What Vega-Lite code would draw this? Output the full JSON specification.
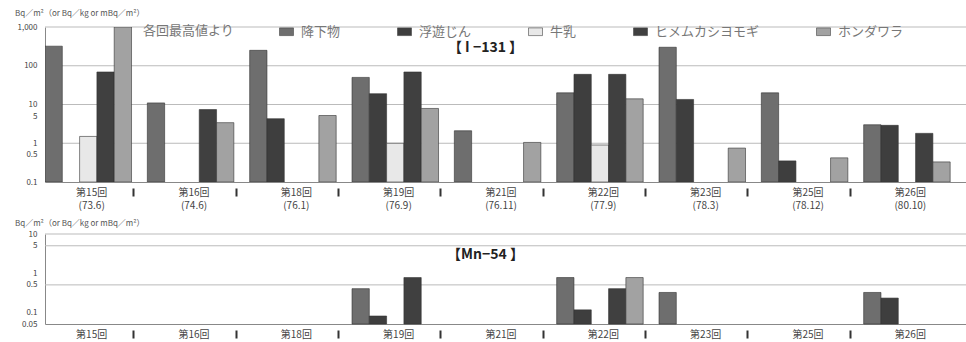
{
  "$schema": "https://vega.github.io/schema/vega-lite/v6.json",
  "padding": {"left": 5, "top": 10, "right": 0, "bottom": 2},
  "spacing": 10,
  "config": {
    "font": "Noto Sans CJK JP",
    "view": {"stroke": null},
    "axis": {"labelFont": "Noto Sans CJK JP", "titleFont": "Noto Sans CJK JP"},
    "title": {"font": "Noto Sans CJK JP"}
  },
  "datasets": {
    "i131": [
      {"test": "第15回|(73.6)", "item": "降下物", "value": 320},
      {"test": "第15回|(73.6)", "item": "牛乳", "value": 1.5},
      {"test": "第15回|(73.6)", "item": "ヒメムカシヨモギ", "value": 69},
      {"test": "第15回|(73.6)", "item": "ホンダワラ", "value": 1000},
      {"test": "第16回|(74.6)", "item": "降下物", "value": 11},
      {"test": "第16回|(74.6)", "item": "ヒメムカシヨモギ", "value": 7.4},
      {"test": "第16回|(74.6)", "item": "ホンダワラ", "value": 3.4},
      {"test": "第18回|(76.1)", "item": "降下物", "value": 250},
      {"test": "第18回|(76.1)", "item": "浮遊じん", "value": 4.3},
      {"test": "第18回|(76.1)", "item": "ホンダワラ", "value": 5.2},
      {"test": "第19回|(76.9)", "item": "降下物", "value": 50},
      {"test": "第19回|(76.9)", "item": "浮遊じん", "value": 19},
      {"test": "第19回|(76.9)", "item": "牛乳", "value": 1.0},
      {"test": "第19回|(76.9)", "item": "ヒメムカシヨモギ", "value": 69},
      {"test": "第19回|(76.9)", "item": "ホンダワラ", "value": 7.9},
      {"test": "第21回|(76.11)", "item": "降下物", "value": 2.1},
      {"test": "第21回|(76.11)", "item": "ホンダワラ", "value": 1.05},
      {"test": "第22回|(77.9)", "item": "降下物", "value": 20},
      {"test": "第22回|(77.9)", "item": "浮遊じん", "value": 60},
      {"test": "第22回|(77.9)", "item": "牛乳", "value": 0.9},
      {"test": "第22回|(77.9)", "item": "ヒメムカシヨモギ", "value": 60},
      {"test": "第22回|(77.9)", "item": "ホンダワラ", "value": 14},
      {"test": "第23回|(78.3)", "item": "降下物", "value": 300},
      {"test": "第23回|(78.3)", "item": "浮遊じん", "value": 13.5},
      {"test": "第23回|(78.3)", "item": "ホンダワラ", "value": 0.75},
      {"test": "第25回|(78.12)", "item": "降下物", "value": 20},
      {"test": "第25回|(78.12)", "item": "浮遊じん", "value": 0.35},
      {"test": "第25回|(78.12)", "item": "ホンダワラ", "value": 0.42},
      {"test": "第26回|(80.10)", "item": "降下物", "value": 3.0},
      {"test": "第26回|(80.10)", "item": "浮遊じん", "value": 2.9},
      {"test": "第26回|(80.10)", "item": "ヒメムカシヨモギ", "value": 1.8},
      {"test": "第26回|(80.10)", "item": "ホンダワラ", "value": 0.33}
    ],
    "mn54": [
      {"test": "第19回|(76.9)", "item": "降下物", "value": 0.4},
      {"test": "第19回|(76.9)", "item": "浮遊じん", "value": 0.08},
      {"test": "第19回|(76.9)", "item": "ヒメムカシヨモギ", "value": 0.77},
      {"test": "第22回|(77.9)", "item": "降下物", "value": 0.77},
      {"test": "第22回|(77.9)", "item": "浮遊じん", "value": 0.115},
      {"test": "第22回|(77.9)", "item": "ヒメムカシヨモギ", "value": 0.4},
      {"test": "第22回|(77.9)", "item": "ホンダワラ", "value": 0.77},
      {"test": "第23回|(78.3)", "item": "降下物", "value": 0.32},
      {"test": "第26回|(80.10)", "item": "降下物", "value": 0.32},
      {"test": "第26回|(80.10)", "item": "浮遊じん", "value": 0.23}
    ],
    "gridTop": [{"v": 1}, {"v": 10}, {"v": 100}, {"v": 1000}],
    "gridBottom": [{"v": 0.5}, {"v": 5}, {"v": 10}],
    "labelTop": [{"t": "【  I −131  】", "v": 280}],
    "labelBottom": [{"t": "【Mn−54    】", "v": 2.9}]
  },
  "resolve": {"legend": {"color": "independent"}, "scale": {"color": "independent"}},
  "vconcat": [
    {
      "width": 921,
      "height": 155,
      "title": {"text": "Bq／m²（or Bq／kg or mBq／m²）", "anchor": "start", "dx": 10, "fontSize": 8, "fontWeight": "normal", "color": "#555", "offset": 5},
      "layer": [
        {
          "data": {"name": "gridTop"},
          "mark": {"type": "rule", "color": "#bbb", "strokeWidth": 1},
          "encoding": {
            "y": {"field": "v", "type": "quantitative", "scale": {"type": "log", "domain": [0.1, 1000], "nice": false},
              "axis": {"title": null, "values": [0.1, 0.5, 1, 5, 10, 100, 1000], "format": ",~g", "grid": false, "ticks": false, "labelFontSize": 8, "labelColor": "#444", "labelPadding": 8, "domainColor": "#888", "minExtent": 40, "maxExtent": 40}}
          }
        },
        {
          "data": {"name": "i131"},
          "mark": {"type": "bar", "stroke": "#333", "strokeWidth": 0.6, "clip": true},
          "encoding": {
            "x": {
              "field": "test", "type": "nominal",
              "scale": {"domain": ["第15回|(73.6)", "第16回|(74.6)", "第18回|(76.1)", "第19回|(76.9)", "第21回|(76.11)", "第22回|(77.9)", "第23回|(78.3)", "第25回|(78.12)", "第26回|(80.10)"], "paddingInner": 0, "paddingOuter": 0},
              "axis": {
                "title": null, "labelAngle": 0, "labelExpr": "split(datum.label, '|')",
                "labelFontSize": 10, "labelColor": "#444", "labelPadding": -9, "labelLineHeight": 13,
                "domainColor": "#888", "bandPosition": 1, "tickExtra": false, "tickOffset": -14, "labelOffset": 9,
                "tickSize": 14, "tickWidth": 2, "tickColor": "#333", "tickDash": [0, 6, 8],
                "tickOpacity": {"condition": {"test": "datum.value === '第26回|(80.10)'", "value": 0}, "value": 1}
              }
            },
            "xOffset": {"field": "item", "type": "nominal", "scale": {"domain": ["降下物", "浮遊じん", "牛乳", "ヒメムカシヨモギ", "ホンダワラ"], "paddingInner": 0, "paddingOuter": 0.457, "align": 0}},
            "y": {
              "field": "value", "type": "quantitative", "stack": null,
              "scale": {"type": "log", "domain": [0.1, 1000], "nice": false},
              "axis": {"title": null, "values": [0.1, 0.5, 1, 5, 10, 100, 1000], "format": ",~g", "grid": false, "ticks": false, "labelFontSize": 8, "labelColor": "#444", "labelPadding": 8, "domainColor": "#888", "minExtent": 40, "maxExtent": 40}
            },
            "y2": {"datum": 0.1},
            "color": {
              "field": "item", "type": "nominal",
              "scale": {"domain": ["降下物", "浮遊じん", "牛乳", "ヒメムカシヨモギ", "ホンダワラ"], "range": ["#6e6e6e", "#3e3e3e", "#e8e8e8", "#404040", "#a2a2a2"]},
              "legend": {
                "orient": "none", "legendX": 98, "legendY": -3, "direction": "horizontal",
                "title": "各回最高値より", "titleOrient": "left", "titleFontSize": 13, "titleFontWeight": "normal", "titleColor": "#777", "titlePadding": 44,
                "labelFontSize": 13, "labelColor": "#777", "labelOffset": 7, "columnPadding": 55,
                "symbolType": "M-1,-0.55H1V0.55H-1Z", "symbolSize": 196, "symbolStrokeColor": "#444", "symbolStrokeWidth": 0.6
              }
            }
          }
        },
        {
          "data": {"name": "labelTop"},
          "mark": {"type": "text", "fontSize": 14, "fontWeight": "bold", "color": "#222", "dx": -20},
          "encoding": {
            "x": {"datum": "第21回|(76.11)"},
            "y": {"field": "v", "type": "quantitative"},
            "text": {"field": "t"}
          }
        }
      ]
    },
    {
      "width": 921,
      "height": 90,
      "title": {"text": "Bq／m²（or Bq／kg or mBq／m²）", "anchor": "start", "dx": 10, "fontSize": 8, "fontWeight": "normal", "color": "#555", "offset": 2},
      "layer": [
        {
          "data": {"name": "gridBottom"},
          "mark": {"type": "rule", "color": "#bbb", "strokeWidth": 1},
          "encoding": {
            "y": {"field": "v", "type": "quantitative", "scale": {"type": "log", "domain": [0.05, 10], "nice": false},
              "axis": {"title": null, "values": [0.05, 0.1, 0.5, 1, 5, 10], "format": ",~g", "grid": false, "ticks": false, "labelFontSize": 8, "labelColor": "#444", "labelPadding": 8, "domainColor": "#888", "minExtent": 40, "maxExtent": 40}}
          }
        },
        {
          "data": {"name": "mn54"},
          "mark": {"type": "bar", "stroke": "#333", "strokeWidth": 0.6},
          "encoding": {
            "x": {
              "field": "test", "type": "nominal",
              "scale": {"domain": ["第15回|(73.6)", "第16回|(74.6)", "第18回|(76.1)", "第19回|(76.9)", "第21回|(76.11)", "第22回|(77.9)", "第23回|(78.3)", "第25回|(78.12)", "第26回|(80.10)"], "paddingInner": 0, "paddingOuter": 0},
              "axis": {
                "title": null, "labelAngle": 0, "labelExpr": "split(datum.label, '|')[0]",
                "labelFontSize": 10, "labelColor": "#444", "labelPadding": -9,
                "domainColor": "#888", "bandPosition": 1, "tickExtra": false, "tickOffset": -14, "labelOffset": 9,
                "tickSize": 14, "tickWidth": 2, "tickColor": "#333", "tickDash": [0, 6, 8],
                "tickOpacity": {"condition": {"test": "datum.value === '第26回|(80.10)'", "value": 0}, "value": 1}
              }
            },
            "xOffset": {"field": "item", "type": "nominal", "scale": {"domain": ["降下物", "浮遊じん", "牛乳", "ヒメムカシヨモギ", "ホンダワラ"], "paddingInner": 0, "paddingOuter": 0.457, "align": 0}},
            "y": {
              "field": "value", "type": "quantitative", "stack": null,
              "scale": {"type": "log", "domain": [0.05, 10], "nice": false},
              "axis": {"title": null, "values": [0.05, 0.1, 0.5, 1, 5, 10], "format": ",~g", "grid": false, "ticks": false, "labelFontSize": 8, "labelColor": "#444", "labelPadding": 8, "domainColor": "#888", "minExtent": 40, "maxExtent": 40}
            },
            "y2": {"datum": 0.05},
            "color": {
              "field": "item", "type": "nominal",
              "scale": {"domain": ["降下物", "浮遊じん", "牛乳", "ヒメムカシヨモギ", "ホンダワラ"], "range": ["#6e6e6e", "#3e3e3e", "#e8e8e8", "#404040", "#a2a2a2"]},
              "legend": null
            }
          }
        },
        {
          "data": {"name": "labelBottom"},
          "mark": {"type": "text", "fontSize": 14, "fontWeight": "bold", "color": "#222", "dx": -20},
          "encoding": {
            "x": {"datum": "第21回|(76.11)"},
            "y": {"field": "v", "type": "quantitative"},
            "text": {"field": "t"}
          }
        }
      ]
    }
  ]
}
